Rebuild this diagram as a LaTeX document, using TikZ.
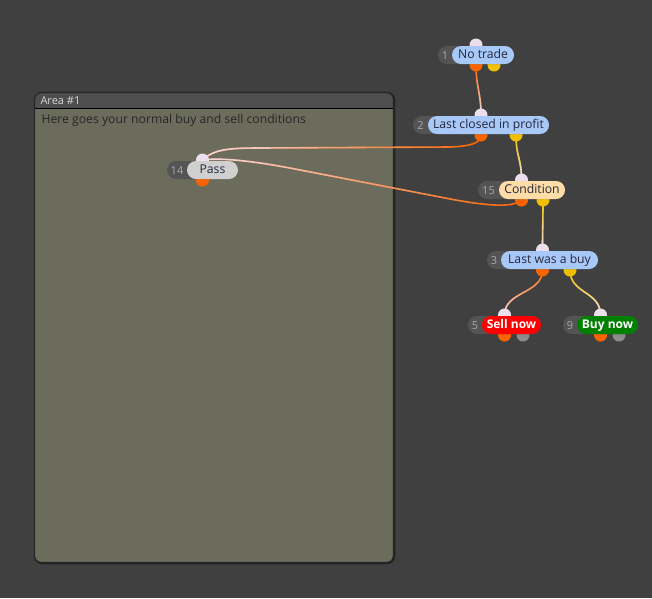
\documentclass[tikz,border=0pt]{standalone}
\usepackage{fontspec}
\setmainfont{Open Sans}
\usetikzlibrary{shapes.misc,fadings,shadows}

\definecolor{canvas}{RGB}{64,64,64}
\definecolor{areahead}{RGB}{78,78,78}
\definecolor{areabody}{RGB}{108,108,92}
\definecolor{areatitle}{RGB}{215,215,215}
\definecolor{areatxt}{RGB}{38,38,38}
\definecolor{numgray}{RGB}{84,84,84}
\definecolor{numtxt}{RGB}{170,170,170}
\definecolor{labtxt}{RGB}{36,40,60}
\definecolor{labblue}{RGB}{168,200,248}
\definecolor{labgray}{RGB}{208,208,208}
\definecolor{labpeach}{RGB}{255,220,168}
\definecolor{labred}{RGB}{255,0,0}
\definecolor{labgreen}{RGB}{0,128,0}
\definecolor{portpale}{RGB}{236,222,236}
\definecolor{portorange}{RGB}{250,100,0}
\definecolor{portyellow}{RGB}{240,192,0}
\definecolor{portgray}{RGB}{140,140,140}

\tikzset{
  pill/.style={rounded rectangle, minimum height=18, inner sep=0pt, text height=9.3pt, text depth=1.7pt},
  numpill/.style={pill, fill=numgray},
  numtext/.style={text=numtxt, font=\fontsize{11}{12}\selectfont, text height=8pt, text depth=0pt},
  labtext/.style={text=labtxt, font=\fontsize{12.2}{13}\selectfont},
  bluelab/.style={pill, labtext, fill=labblue},
  graylab/.style={pill, labtext, fill=labgray},
  peachlab/.style={pill, labtext, fill=labpeach},
  redlab/.style={pill, fill=labred, text=white, font=\fontsize{12}{13}\selectfont\bfseries},
  greenlab/.style={pill, fill=labgreen, text=white, font=\fontsize{12}{13}\selectfont\bfseries},
  wire/.style={line width=1.6pt, line cap=round},
}

\newcommand{\flownode}[8]{%
  \node[numpill, minimum width={#4-#2}] (#1) at ({(#2+#4)/2},#5) {};
  \node[#8, minimum width={#4-#3}] (#1-lab) at ({(#3+#4)/2},#5) {#7};
  \node[numtext] (#1-num) at ({(#2+#3)/2},#5) {#6};
}
\newcommand{\wire}[3]{%
  \draw[wire,#1] #3;
  \draw[wire,portpale,path fading=#2] #3;
}

\begin{document}
\begin{tikzpicture}[x=1pt,y=-1pt,line join=round]
  \fill[canvas] (0,0) rectangle (652,598);
  \useasboundingbox (0,0) rectangle (652,598);

  \draw[black, line width=4pt, opacity=0.25, rounded corners=7] (35.5,93.5) rectangle (393.5,562.5);
  \draw[black, line width=2pt, opacity=0.35, rounded corners=6] (35.5,93.5) rectangle (393.5,562.5);
  \fill[areahead, rounded corners=6] (35,93) rectangle (393,562);
  \begin{scope}
    \clip[rounded corners=6] (35,93) rectangle (393,562);
    \fill[areabody] (35,108) rectangle (393,562);
  \end{scope}
  \draw[black] (35,108) -- (393,108);
  \draw[black!85, rounded corners=6] (35,93) rectangle (393,562);
  \node[anchor=west, text=areatitle, font=\fontsize{11}{12}\selectfont] (areatitle) at (37,101) {Area \#1};
  \node[anchor=west, text=areatxt, font=\fontsize{12.2}{13}\selectfont] (areadesc) at (38,120) {Here goes your normal buy and sell conditions};

  \coordinate (n1-in) at (476,45);
  \coordinate (n1-o1) at (476,65);
  \coordinate (n1-o2) at (494,65);
  \coordinate (n2-in) at (481,115);
  \coordinate (n2-o1) at (481,135);
  \coordinate (n2-o2) at (516,135);
  \coordinate (n14-in) at (202.5,160);
  \coordinate (n14-o1) at (202.5,180);
  \coordinate (n15-in) at (521.5,180);
  \coordinate (n15-o1) at (521.5,200);
  \coordinate (n15-o2) at (543,200);
  \coordinate (n3-in) at (542.5,250);
  \coordinate (n3-o1) at (542.5,270);
  \coordinate (n3-o2) at (570,270);
  \coordinate (n5-in) at (504.5,315);
  \coordinate (n5-o1) at (504.5,335);
  \coordinate (n5-o2) at (523,335);
  \coordinate (n9-in) at (600.5,315);
  \coordinate (n9-o1) at (600.5,335);
  \coordinate (n9-o2) at (619,335);

  \wire{portorange}{north}{(n1-o1) .. controls +(0,22) and +(0,-22) .. (n2-in)}
  \wire{portyellow}{north}{(n2-o2) .. controls +(0,22) and +(0,-22) .. (n15-in)}
  \wire{portyellow}{north}{(n15-o2) .. controls +(0,22) and +(0,-22) .. (n3-in)}
  \wire{portorange}{north}{(n3-o1) .. controls +(0,24) and +(0,-24) .. (n5-in)}
  \wire{portyellow}{north}{(n3-o2) .. controls +(0,24) and +(0,-24) .. (n9-in)}
  \wire{portorange}{east}{(n14-in) .. controls (214,149) and (230,148) .. (260,148) -- (450,147) .. controls (474,146) and (481,142) .. (n2-o1)}
  \wire{portorange}{east}{(n14-in) .. controls (225,157) and (265,163) .. (300,170) -- (440,197) .. controls (480,205) and (512,209) .. (n15-o1)}

  \foreach \p in {n1-in,n2-in,n14-in,n15-in,n3-in,n5-in,n9-in}
    \fill[portpale] (\p) circle (6.5);
  \foreach \p in {n1-o1,n2-o1,n14-o1,n15-o1,n3-o1,n5-o1,n9-o1}
    \fill[portorange] (\p) circle (6.5);
  \foreach \p in {n1-o2,n2-o2,n15-o2,n3-o2}
    \fill[portyellow] (\p) circle (6.5);
  \foreach \p in {n5-o2,n9-o2}
    \fill[portgray] (\p) circle (6.5);

  \flownode{n1}{438}{452}{514}{55}{1}{No trade}{bluelab}
  \flownode{n2}{413}{428}{549}{125}{2}{Last closed in profit}{bluelab}
  \flownode{n14}{167}{187}{238}{170}{14}{Pass}{graylab}
  \flownode{n15}{478}{499}{565}{190}{15}{Condition}{peachlab}
  \flownode{n3}{487}{501}{598}{260}{3}{Last was a buy}{bluelab}
  \flownode{n5}{468}{482}{541}{325}{5}{Sell now}{redlab}
  \flownode{n9}{563}{577}{638}{325}{9}{Buy now}{greenlab}
\end{tikzpicture}
\end{document}
